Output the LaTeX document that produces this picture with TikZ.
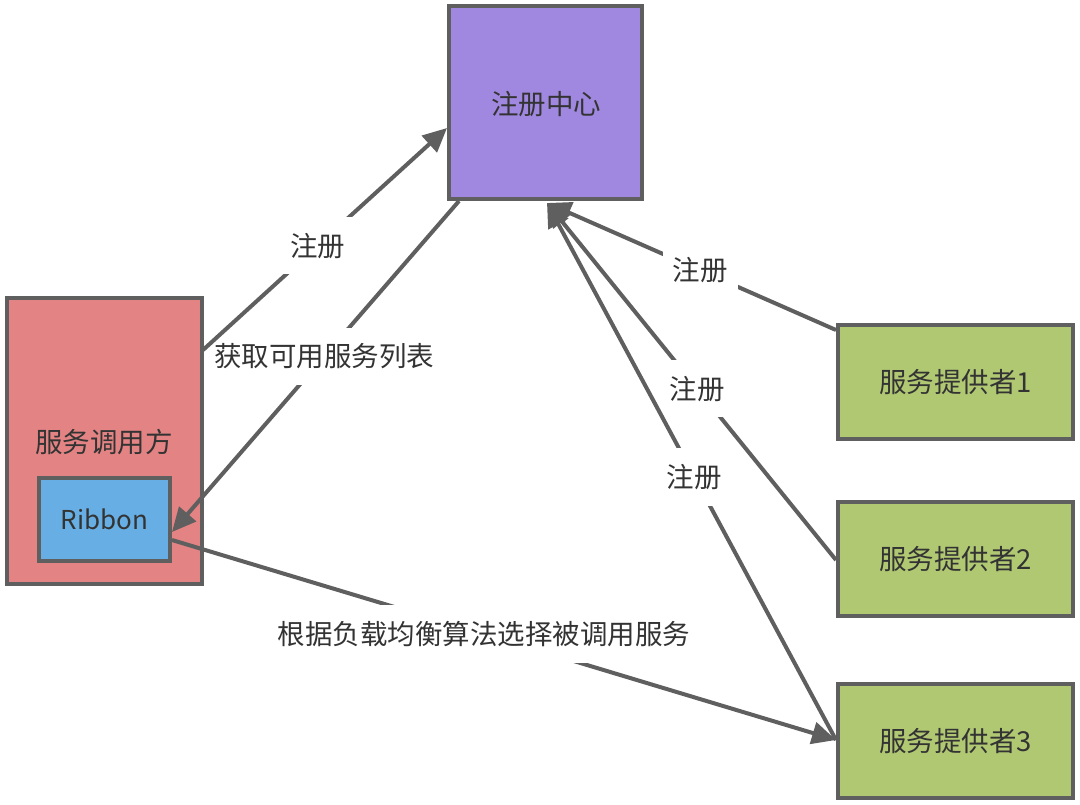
\documentclass[tikz,border=0pt]{standalone}
\usepackage{fontspec}
\setmainfont{Noto Sans CJK SC}
\usetikzlibrary{arrows.meta}
\definecolor{edge}{HTML}{5F5F5F}
\definecolor{txt}{HTML}{333333}
\definecolor{regfill}{HTML}{A088E0}
\definecolor{callfill}{HTML}{E38383}
\definecolor{ribfill}{HTML}{66AEE3}
\definecolor{provfill}{HTML}{B1C873}
\tikzset{
  box/.style={draw=edge, line width=4pt, inner sep=0pt, text=txt, font=\fontsize{27.5}{32}\selectfont},
  conn/.style={draw=edge, line width=4pt, -{Triangle[length=24pt,width=22pt]}},
  lbl/.style={fill=white, text=txt, inner xsep=10pt, inner ysep=16pt, font=\fontsize{27.5}{32}\selectfont}
}
\begin{document}
\begin{tikzpicture}[x=1pt,y=-1pt]
\useasboundingbox (0,0) rectangle (1080,804);
% boxes
\node[box, fill=regfill, minimum width=193pt, minimum height=193pt] (reg) at (545.5,102.5) {};
\node[text=txt, font=\fontsize{27.5}{32}\selectfont] (regt) at (546,104) {注册中心};
\node[box, fill=callfill, outer sep=0pt, minimum width=195pt, minimum height=286pt] (caller) at (104.5,441) {};
\node[text=txt, font=\fontsize{27.5}{32}\selectfont] (callt) at (104,442) {服务调用方};
\node[box, fill=ribfill, minimum width=131pt, minimum height=83pt, font=\fontsize{26}{30}\selectfont] (rib) at (104.5,519.5) {Ribbon};
\node[box, fill=provfill, minimum width=235pt, minimum height=114pt] (p1) at (955.5,382) {服务提供者1};
\node[box, fill=provfill, minimum width=235pt, minimum height=114pt] (p2) at (955.5,559) {服务提供者2};
\node[box, fill=provfill, minimum width=235pt, minimum height=114pt] (p3) at (955.5,741) {服务提供者3};
% anchor coordinates
\coordinate (a1s) at (203,350);
\coordinate (a1e) at (447,128);
\coordinate (a2s) at (459,201);
\coordinate (a2e) at (172,532);
\coordinate (top) at (547,203);
\coordinate (p1s) at (836,330);
\coordinate (p2s) at (836,560);
\coordinate (p3s) at (836,740);
\coordinate (r6s) at (172,540);
\coordinate (r6e) at (836,740);
% connectors
\draw[conn] (a2s) -- node[lbl, pos=0.47] (l2) {获取可用服务列表} (a2e);
\draw[conn] (a1s) -- node[lbl, pos=0.47] (l1) {注册} (a1e);
\draw[conn] (p1s) -- node[lbl, pos=0.47] (l3) {注册} (top);
\draw[conn] (p2s) -- node[lbl, pos=0.48] (l4) {注册} (top);
\draw[conn] (p3s) -- node[lbl, pos=0.49] (l5) {注册} (top);
\draw[conn] (r6s) -- node[lbl, pos=0.47] (l6) {根据负载均衡算法选择被调用服务} (r6e);
% restore caller outline over the label background
\draw[draw=edge, line width=4pt] (caller.north west) rectangle (caller.south east);
\end{tikzpicture}
\end{document}
